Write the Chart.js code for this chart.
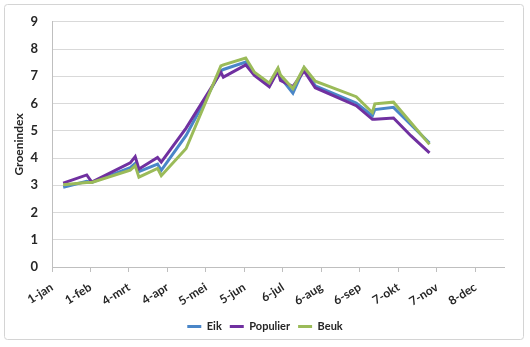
<!DOCTYPE html>
<html>
<head>
<meta charset="utf-8">
<script src="https://cdn.jsdelivr.net/npm/chart.js@4.4.0/dist/chart.umd.min.js"></script>
<style>
  html, body { margin: 0; padding: 0; background: #fff; }
  #wrap { position: relative; width: 530px; height: 347px; }
</style>
</head>
<body>
<div id="wrap"><canvas id="c" width="530" height="347"></canvas></div>
<script>
// ---------- Data ----------
// measurement dates, in days after 1 januari
var days = [9, 28, 32, 63, 67, 70, 85, 88, 108, 136, 138, 156, 163, 175, 182, 184, 194, 203, 212, 245, 258, 260, 275, 289, 304];

var eik      = [2.93, 3.15, 3.10, 3.65, 3.80, 3.50, 3.78, 3.55, 4.83, 7.20, 7.25, 7.52, 7.10, 6.65, 7.25, 6.95, 6.38, 7.30, 6.65, 6.02, 5.55, 5.78, 5.86, null, 4.55];
var populier = [3.08, 3.38, 3.12, 3.82, 4.05, 3.60, 4.02, 3.85, 5.10, 7.15, 6.97, 7.42, 7.03, 6.62, 7.20, 6.85, 6.62, 7.20, 6.58, 5.92, 5.42, 5.42, 5.47, 4.82, 4.19];
var beuk     = [3.02, 3.10, 3.10, 3.55, 3.72, 3.30, 3.62, 3.35, 4.35, 7.38, 7.42, 7.67, 7.15, 6.75, 7.30, 7.05, 6.55, 7.33, 6.82, 6.25, 5.67, 5.99, 6.05, null, 4.50];

// x ticks every 31 days from 1 januari
var xTickLabels = ['1-jan', '1-feb', '4-mrt', '4-apr', '5-mei', '5-jun', '6-jul', '6-aug', '6-sep', '7-okt', '7-nov', '8-dec'];

// ---------- Helpers ----------
function pts(vals) {
  return days.map(function (d, i) { return { x: d, y: vals[i] }; });
}

var FONT = "Lato, 'Open Sans', sans-serif";
var TEXT = '#262626';

var framePlugin = {
  id: 'frame',
  beforeDraw: function (chart) {
    var c = chart.ctx;
    c.save();
    c.fillStyle = '#ffffff';
    c.fillRect(0, 0, chart.width, chart.height);
    c.strokeStyle = '#d4d4d4';
    c.lineWidth = 1;
    c.beginPath();
    c.roundRect(4.5, 4.5, 519, 335, 3);
    c.stroke();
    c.restore();
  }
};

function line(label, vals, color, order) {
  return {
    label: label,
    data: pts(vals),
    borderColor: color,
    backgroundColor: color,
    borderWidth: 3,
    pointRadius: 0,
    tension: 0,
    spanGaps: true,
    order: order
  };
}

new Chart(document.getElementById('c'), {
  type: 'line',
  data: {
    datasets: [
      line('Eik', eik, '#4a86c8', 3),
      line('Populier', populier, '#7030a0', 2),
      line('Beuk', beuk, '#9bbb59', 1)
    ]
  },
  options: {
    responsive: false,
    animation: false,
    layout: { padding: { top: 14, right: 0, left: 0, bottom: 5 } },
    scales: {
      x: {
        type: 'linear',
        min: 0,
        max: 364,
        border: { color: '#bfbfbf' },
        grid: { drawOnChartArea: false, color: '#bfbfbf', tickLength: 5 },
        ticks: {
          stepSize: 31,
          includeBounds: false,
          autoSkip: false,
          minRotation: 32,
          maxRotation: 32,
          padding: 8,
          color: TEXT,
          font: { family: FONT, size: 12, weight: 'bold' },
          callback: function (v) { return xTickLabels[Math.round(v / 31)]; }
        },
        afterFit: function (s) { s.height = 46; }
      },
      y: {
        min: 0,
        max: 9,
        border: { color: '#bfbfbf' },
        grid: { color: '#d9d9d9', drawTicks: false },
        ticks: {
          stepSize: 1,
          padding: 14,
          color: TEXT,
          font: { family: FONT, size: 13, weight: 'bold' }
        },
        title: {
          display: true,
          text: 'Groenindex',
          color: TEXT,
          padding: { top: 12, bottom: 0 },
          font: { family: FONT, size: 12, weight: 'bold' }
        },
        afterFit: function (s) { s.width = 52; }
      },
      // empty right margin so the legend centres on the whole frame
      yr: {
        position: 'right',
        min: 0,
        max: 9,
        grid: { display: false },
        border: { display: false },
        ticks: { display: false },
        afterFit: function (s) { s.width = 26; }
      }
    },
    plugins: {
      legend: {
        position: 'bottom',
        labels: {
          usePointStyle: true,
          pointStyle: 'line',
          pointStyleWidth: 14,
          padding: 8,
          color: TEXT,
          font: { family: FONT, size: 11, weight: 'bold' },
          sort: function (a, b) { return a.datasetIndex - b.datasetIndex; }
        }
      },
      tooltip: { enabled: false }
    }
  },
  plugins: [framePlugin]
});
</script>
</body>
</html>
